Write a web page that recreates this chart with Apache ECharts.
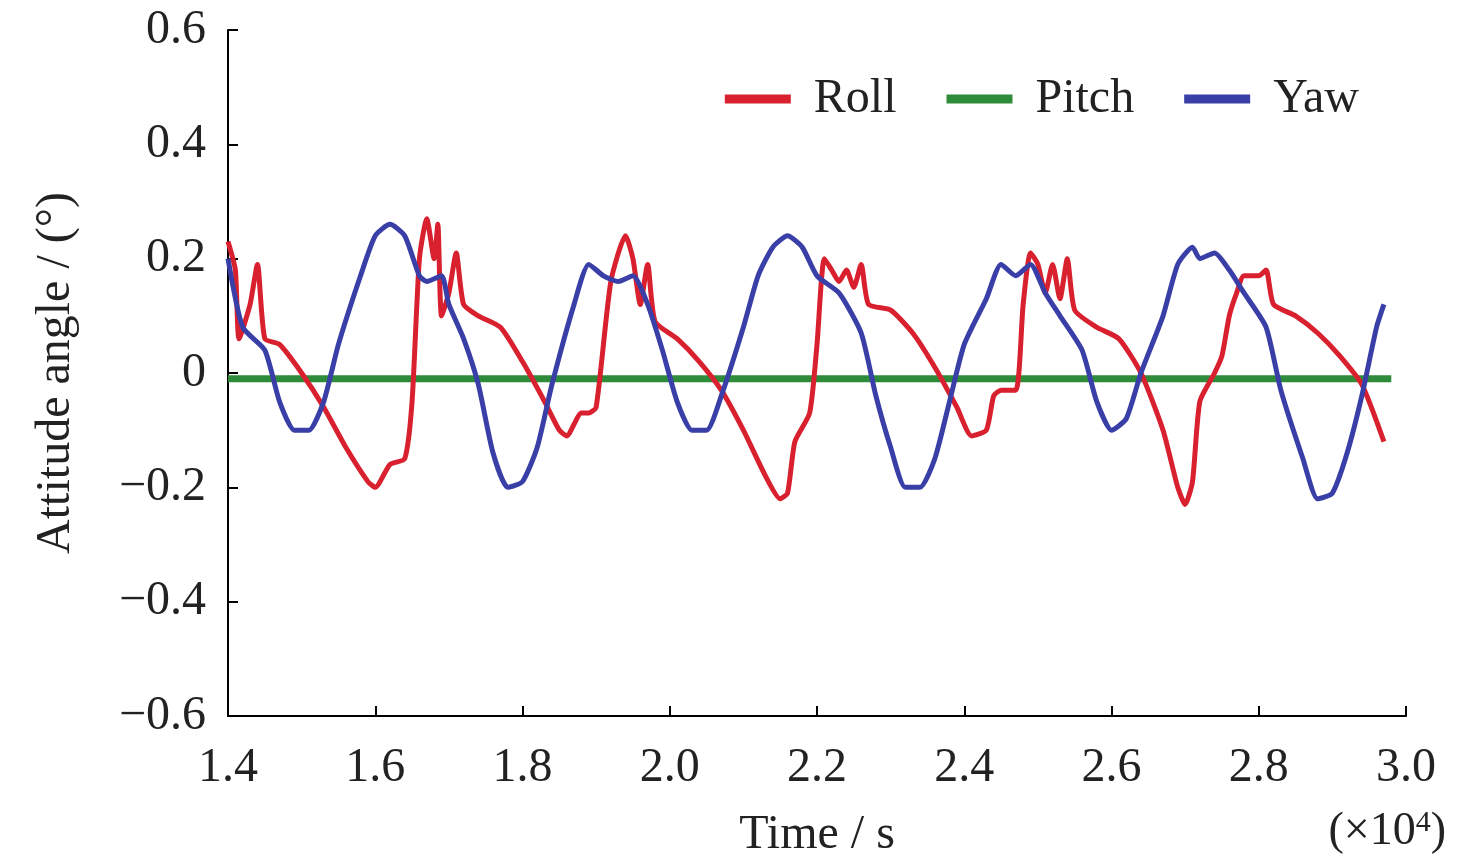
<!DOCTYPE html>
<html><head><meta charset="utf-8">
<script src="https://cdn.jsdelivr.net/npm/echarts@6/dist/echarts.min.js"></script>
<style>html,body{margin:0;background:#fff}#c{width:1476px;height:868px}</style>
</head><body><div id="c"></div>
<script>
const rollX=[1.40,1.41,1.415,1.43,1.44,1.45,1.47,1.50,1.53,1.56,1.59,1.60,1.62,1.64,1.65,1.66,1.67,1.68,1.685,1.69,1.70,1.71,1.72,1.74,1.77,1.80,1.83,1.85,1.86,1.88,1.89,1.90,1.92,1.94,1.95,1.96,1.97,1.98,2.01,2.04,2.07,2.10,2.13,2.15,2.16,2.17,2.19,2.20,2.21,2.22,2.23,2.24,2.25,2.26,2.27,2.30,2.33,2.36,2.39,2.41,2.43,2.44,2.45,2.47,2.48,2.49,2.50,2.51,2.52,2.53,2.54,2.55,2.58,2.61,2.64,2.67,2.69,2.70,2.71,2.72,2.74,2.75,2.76,2.77,2.78,2.80,2.81,2.82,2.85,2.88,2.91,2.94,2.97];
const rollY=[0.23,0.18,0.06,0.12,0.19,0.06,0.05,0.0,-0.06,-0.13,-0.19,-0.20,-0.16,-0.15,-0.05,0.2,0.27,0.2,0.26,0.1,0.14,0.21,0.12,0.1,0.08,0.02,-0.05,-0.10,-0.11,-0.07,-0.07,-0.06,0.16,0.24,0.2,0.12,0.19,0.09,0.06,0.02,-0.03,-0.10,-0.18,-0.22,-0.21,-0.12,-0.07,0.05,0.2,0.18,0.16,0.18,0.15,0.19,0.12,0.11,0.07,0.01,-0.06,-0.11,-0.10,-0.04,-0.03,-0.03,0.12,0.21,0.19,0.14,0.19,0.13,0.20,0.11,0.08,0.06,0.0,-0.1,-0.2,-0.23,-0.19,-0.05,0.0,0.03,0.1,0.14,0.17,0.17,0.18,0.12,0.10,0.07,0.03,-0.02,-0.12];
const yawX=[1.40,1.42,1.45,1.47,1.49,1.51,1.53,1.55,1.58,1.60,1.62,1.64,1.66,1.67,1.69,1.70,1.72,1.74,1.76,1.78,1.80,1.82,1.84,1.87,1.89,1.91,1.93,1.95,1.97,1.99,2.01,2.03,2.05,2.07,2.10,2.12,2.14,2.16,2.18,2.20,2.23,2.26,2.28,2.30,2.32,2.34,2.36,2.38,2.40,2.43,2.45,2.47,2.49,2.51,2.53,2.56,2.58,2.60,2.62,2.64,2.67,2.69,2.71,2.72,2.74,2.76,2.78,2.81,2.83,2.86,2.88,2.90,2.92,2.94,2.96,2.97];
const yawY=[0.2,0.08,0.04,-0.05,-0.10,-0.10,-0.05,0.05,0.17,0.24,0.26,0.24,0.17,0.16,0.17,0.12,0.06,-0.02,-0.14,-0.20,-0.19,-0.13,-0.02,0.12,0.19,0.17,0.16,0.17,0.12,0.04,-0.05,-0.10,-0.10,-0.04,0.08,0.17,0.22,0.24,0.22,0.17,0.14,0.07,-0.04,-0.13,-0.20,-0.20,-0.15,-0.05,0.05,0.13,0.19,0.17,0.19,0.14,0.1,0.04,-0.05,-0.10,-0.08,0.0,0.1,0.19,0.22,0.20,0.21,0.18,0.14,0.08,-0.03,-0.15,-0.22,-0.21,-0.14,-0.04,0.08,0.12];
const pitchX=[1.40,2.98];
const pitchY=[-0.01,-0.01];
const zip=(a,b)=>a.map((v,i)=>[v,b[i]]);
const F='Liberation Serif';
const fmt=v=>Math.abs(v)<1e-9?'0':(v<0?'−':'')+Math.abs(v).toFixed(1);
const chart=echarts.init(document.getElementById('c'));
chart.setOption({
 animation:false,
 grid:{left:228,right:70,top:30,bottom:152},
 legend:{right:112,top:70,itemWidth:66,itemHeight:9,itemGap:50,
  textStyle:{fontFamily:F,fontSize:48,color:'#222',padding:[0,0,0,18]},
  data:['Roll','Pitch','Yaw'].map(n=>({name:n,icon:'rect'}))},
 xAxis:{type:'value',min:1.4,max:3.0,interval:0.2,
  name:'Time / s',nameLocation:'middle',nameGap:95,
  nameTextStyle:{fontFamily:F,fontSize:48,color:'#222'},
  axisLine:{onZero:false,lineStyle:{color:'#000',width:2}},
  axisTick:{inside:true,length:10,lineStyle:{color:'#000',width:2}},
  axisLabel:{formatter:v=>v.toFixed(1),fontFamily:F,fontSize:48,color:'#222',margin:28},
  splitLine:{show:false}},
 yAxis:{type:'value',min:-0.6,max:0.6,interval:0.2,
  name:'Attitude angle / (°)',nameLocation:'middle',nameGap:148,
  nameTextStyle:{fontFamily:F,fontSize:48,color:'#222'},
  axisLine:{show:true,lineStyle:{color:'#000',width:2}},
  axisTick:{show:true,inside:true,length:10,lineStyle:{color:'#000',width:2}},
  axisLabel:{formatter:fmt,fontFamily:F,fontSize:48,color:'#222',margin:22},
  splitLine:{show:false}},
 graphic:[{type:'text',right:30,top:808,style:{text:'(×10{s|4})',
   font:'46px "Liberation Serif"',fill:'#222',rich:{s:{fontSize:30,verticalAlign:'top',padding:[0,0,18,0],fontFamily:F}}}}],
 series:[
  {name:'Roll',type:'line',data:zip(rollX,rollY),showSymbol:false,smooth:0.2,lineStyle:{color:'#d8202e',width:5},itemStyle:{color:'#d8202e'}},
  {name:'Pitch',type:'line',data:zip(pitchX,pitchY),showSymbol:false,lineStyle:{color:'#2e8b3a',width:7},itemStyle:{color:'#2e8b3a'},z:1},
  {name:'Yaw',type:'line',data:zip(yawX,yawY),showSymbol:false,smooth:0.2,lineStyle:{color:'#3a3fa8',width:5},itemStyle:{color:'#3a3fa8'}}
 ]
});
</script></body></html>
